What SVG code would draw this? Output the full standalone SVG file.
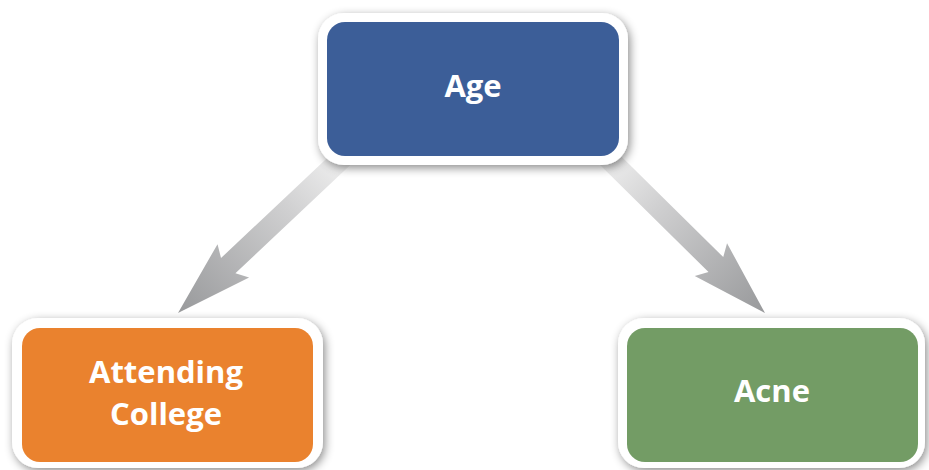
<svg xmlns="http://www.w3.org/2000/svg" width="929" height="470" viewBox="0 0 929 470">
<style>
.frame{fill:#ffffff;filter:url(#shadow)}
.label{font-family:"Open Sans","Liberation Sans",sans-serif;font-weight:700;font-size:31px;fill:#ffffff;text-anchor:middle}
.arrow{fill:url(#agrad)}
</style>
<defs>
<filter id="shadow" x="-20%" y="-30%" width="140%" height="160%">
<feDropShadow dx="2" dy="3" stdDeviation="5" flood-color="#000" flood-opacity="0.45"/>
</filter>
<linearGradient id="agrad" gradientUnits="userSpaceOnUse" x1="-230" y1="0" x2="0" y2="0">
<stop offset="0" stop-color="#f2f2f2"/>
<stop offset="0.35" stop-color="#cfcfd0"/>
<stop offset="1" stop-color="#98999b"/>
</linearGradient>
<path id="arr" d="M-232,-10.5 L-69,-10.5 L-76,-23 L0,0 L-76,23 L-69,10.5 L-232,10.5 Z"/>
</defs>
<g id="connectors">
<use href="#arr" class="arrow" transform="translate(178,313) rotate(136.7)"/>
<use href="#arr" class="arrow" transform="translate(765,313) rotate(44.6)"/>
</g>
<g id="node-age">
<rect class="frame" x="318" y="13" width="310" height="152" rx="26"/>
<rect x="327" y="22" width="292" height="134" rx="18" fill="#3c5e98"/>
<text class="label" x="473" y="97">Age</text>
</g>
<g id="node-college">
<rect class="frame" x="12" y="318" width="311" height="150" rx="26"/>
<rect x="22" y="328" width="291" height="134" rx="18" fill="#ea822e"/>
<text class="label" x="166" y="383">Attending</text>
<text class="label" x="166" y="425">College</text>
</g>
<g id="node-acne">
<rect class="frame" x="618" y="318" width="307" height="150" rx="26"/>
<rect x="627" y="328" width="291" height="134" rx="18" fill="#739c65"/>
<text class="label" x="772" y="402">Acne</text>
</g>
</svg>
